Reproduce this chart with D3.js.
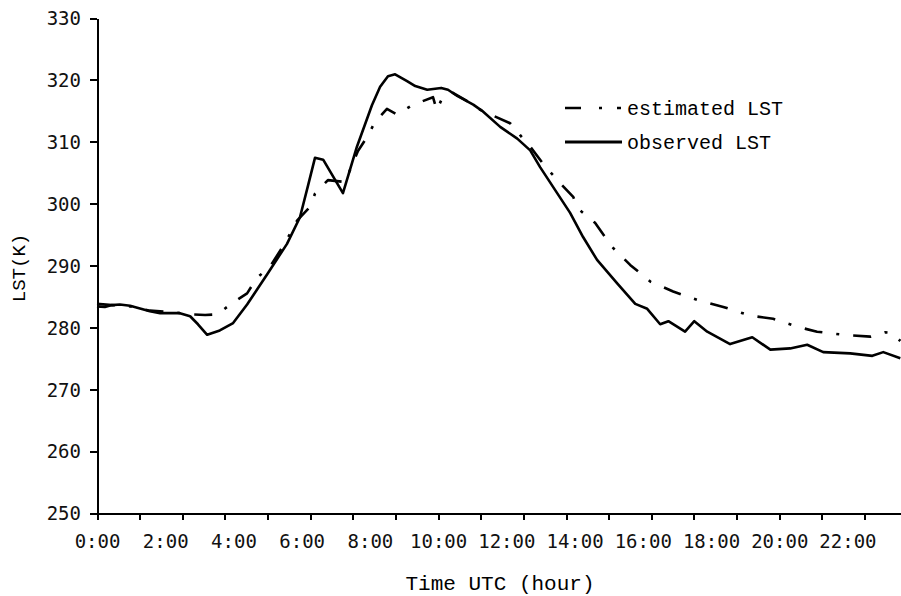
<!DOCTYPE html>
<meta charset="utf-8">
<style>

body { margin: 0; background: #fff; }

.axis path,
.axis line {
	stroke: #000;
	stroke-width: 2px;
	shape-rendering: crispEdges;
}

.axis text {
	font: 19px "DejaVu Sans Mono", monospace;
	fill: #111;
}

.title {
	font: 21px "Liberation Mono", "Courier New", monospace;
	fill: #000;
}

.legend text {
	font: 20px "Liberation Mono", "Courier New", monospace;
	fill: #000;
}

.line {
	fill: none;
	stroke: #000;
	stroke-width: 2.6px;
	stroke-linejoin: round;
}

.estimated { stroke-dasharray: 18,14,3,14; }

</style>
<body>

<script src="https://d3js.org/d3.v7.min.js"></script>
<script>

// observed LST (solid line), hour UTC / kelvin
var obsHours = [0, 0.23, 0.44, 0.67, 0.97, 1.55, 1.85, 2.43, 2.73, 2.96, 3.23, 3.6, 3.99,
	4.4, 4.99, 5.57, 5.95, 6.19, 6.39, 6.63, 7.21, 7.62, 8.06, 8.3, 8.53, 8.74,
	9.09, 9.33, 9.68, 10.09, 10.29, 10.56, 11.03, 11.29, 11.82, 12.32, 12.7, 12.99,
	13.49, 13.87, 14.25, 14.66, 15.25, 15.78, 16.13, 16.51, 16.75, 17.24, 17.51,
	17.89, 18.56, 19.21, 19.74, 20.32, 20.82, 21.29, 22.08, 22.73, 23.05, 23.55];
var obsValues = [283.4, 283.3, 283.6, 283.7, 283.5, 282.6, 282.3, 282.3, 281.8, 280.5, 278.8, 279.5, 280.7,
	283.7, 288.6, 293.5, 297.8, 303, 307.4, 307.1, 301.7, 309.2, 315.9, 318.9, 320.6, 320.9,
	319.8, 319, 318.4, 318.7, 318.4, 317.4, 316, 315, 312.4, 310.5, 308.6, 305.9,
	301.7, 298.5, 294.6, 290.9, 287.1, 283.8, 283, 280.5, 281, 279.3, 281,
	279.3, 277.3, 278.4, 276.4, 276.6, 277.2, 276, 275.8, 275.4, 276, 275];

// estimated LST (dash-dot line)
var estHours = [0, 0.44, 0.97, 1.55, 2.14, 2.73, 3.17, 3.52, 3.96, 4.4, 4.69, 5.07, 5.51,
	5.87, 6.25, 6.39, 6.77, 7.27, 7.65, 7.92, 8.15, 8.5, 8.8, 9.24, 9.85, 9.96, 10.1,
	10.41, 10.94, 11.23, 11.58, 12.11, 12.4, 12.7, 13.14, 13.58, 13.96, 14.1, 14.6,
	15.1, 15.63, 16.22, 16.89, 17.62, 18.36, 19.15, 19.82, 20.53, 21.11, 21.88,
	22.67, 23.1, 23.31, 23.55];
var estValues = [283.8, 283.6, 283.4, 282.7, 282.5, 282.1, 282, 282.1, 283.9, 285.5, 288, 289.8, 293.6,
	297.3, 299.5, 301.6, 303.8, 303.5, 308.5, 310.8, 313.2, 315.3, 314.4, 315.9, 317.2, 315.1, 316.8,
	318, 316.3, 315.2, 314.3, 313, 311.1, 309.2, 306, 303.3, 301.1, 299.2, 296.9,
	293, 290.1, 287.4, 285.8, 284.4, 283.3, 281.9, 281.4, 280.1, 279.3, 278.8,
	278.5, 279.2, 279.1, 277.8];

var yTicks = [250, 260, 270, 280, 290, 300, 310, 320, 330];
var xLabelHours = [0, 2, 4, 6, 8, 10, 12, 14, 16, 18, 20, 22];
var xTickHours = d3.range(0, 23.6, 1.25);

var width = 901, height = 596;

var x = d3.scaleLinear().domain([0, 23.57]).range([97, 901]);
var y = d3.scaleLinear().domain([250, 330]).range([513, 18]);

var svg = d3.select("body").append("svg")
	.attr("width", width)
	.attr("height", height);

// y axis
svg.append("g")
	.attr("class", "axis")
	.attr("transform", "translate(" + x(0) + ",0)")
	.call(d3.axisLeft(y).tickValues(yTicks).tickSize(7).tickSizeOuter(0).tickPadding(9))
	.selectAll("text").attr("dy", "0.36em");

// x axis: ticks every 1.25 h, labels every 2 h
svg.append("g")
	.attr("class", "axis")
	.attr("transform", "translate(0," + y(250) + ")")
	.call(d3.axisBottom(x).tickValues(xTickHours).tickSize(7).tickSizeOuter(0).tickFormat(""));

var xl = svg.append("g")
	.attr("class", "axis")
	.attr("transform", "translate(0," + y(250) + ")")
	.call(d3.axisBottom(x).tickValues(xLabelHours).tickSize(0).tickPadding(22)
		.tickFormat(function(d) { return d + ":00"; }));
xl.select(".domain").remove();

// titles
svg.append("text")
	.attr("class", "title")
	.attr("x", 500)
	.attr("y", 590)
	.attr("text-anchor", "middle")
	.text("Time UTC (hour)");

svg.append("text")
	.attr("class", "title")
	.attr("transform", "translate(25,268) rotate(-90)")
	.attr("text-anchor", "middle")
	.style("font-size", "19px")
	.text("LST(K)");

// lines
var line = d3.line()
	.x(function(d) { return x(d[0]); })
	.y(function(d) { return y(d[1]); });

svg.append("path")
	.attr("class", "line estimated")
	.attr("d", line(d3.zip(estHours, estValues)));

svg.append("path")
	.attr("class", "line")
	.attr("d", line(d3.zip(obsHours, obsValues)));

// legend
var legend = svg.append("g").attr("class", "legend");

legend.append("line")
	.attr("class", "line")
	.attr("x1", 565).attr("x2", 622)
	.attr("y1", 108).attr("y2", 108)
	.style("stroke-dasharray", "16,18,3,15,4");
legend.append("text")
	.attr("x", 627).attr("y", 115)
	.text("estimated LST");

legend.append("line")
	.attr("class", "line")
	.attr("x1", 565).attr("x2", 622)
	.attr("y1", 142).attr("y2", 142)
	.style("stroke-width", "3px");
legend.append("text")
	.attr("x", 627).attr("y", 149)
	.text("observed LST");

</script>
</body>
